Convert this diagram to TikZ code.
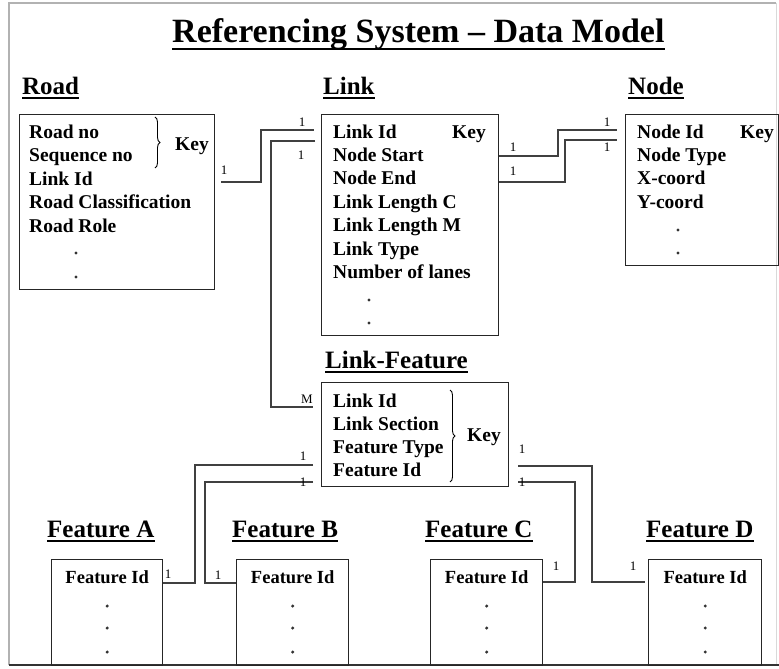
\documentclass[tikz,border=0pt]{standalone}
\usepackage{fontspec}
\setmainfont{Liberation Serif}
\usetikzlibrary{decorations.pathreplacing}

% underlined heading: name, x, baseline y, text
\newcommand\ulheading[4]{%
  \node[heading] (#1) at (#2,#3) {#4};
  \draw[uline] ([yshift=-4pt]#1.base west) -- ([yshift=-4pt]#1.base east);
}

\begin{document}
\begin{tikzpicture}[x=1pt,y=-1pt,
  entity/.style={draw=black!85, line width=1.4pt, inner sep=0, anchor=north west},
  field/.style={inner sep=0, anchor=base west, font=\fontsize{19.5}{23}\selectfont\bfseries},
  fieldc/.style={field, anchor=base},
  heading/.style={inner sep=0, anchor=base west, font=\fontsize{25}{30}\selectfont\bfseries},
  titletext/.style={inner sep=0, anchor=base west, font=\fontsize{34}{40}\selectfont\bfseries},
  card/.style={inner sep=0, font=\fontsize{13}{13}\selectfont},
  conn/.style={draw=black!75, line width=1.3pt},
  uline/.style={line width=1.6pt},
  keybrace/.style={decorate, decoration={brace, amplitude=5pt}, line width=0.9pt},
  dot/.style={fill=black!80}
]
\useasboundingbox (0,0) rectangle (779,669);

% outer frame
\draw[gray!60, line width=1.5pt] (9,665) -- (9,3) -- (776,3);
\draw[gray!30, line width=1pt] (776,3) -- (776,665);
\draw[black!80, line width=1.8pt] (9,665) -- (779,665);

% title
\node[titletext] (title) at (172,43) {Referencing System – Data Model};
\draw[line width=2.2pt] ([yshift=-6pt]title.base west) -- ([yshift=-6pt]title.base east);

% ---------- Road ----------
\ulheading{roadh}{22}{94}{Road}
\node[entity, minimum width=195pt, minimum height=175pt] (road) at (19,114) {};
\foreach \t [count=\i] in {Road no, Sequence no, Link Id, Road Classification, Road Role}
  \node[field] (road-f\i) at (29,{138+23.5*(\i-1)}) {\t};
\draw[keybrace] (155,117) -- (155,168);
\node[field] (road-key) at (175,150) {Key};
\fill[dot] (76,253) circle (1.7pt) (76,277) circle (1.7pt);

% ---------- Link ----------
\ulheading{linkh}{323}{94}{Link}
\node[entity, minimum width=177pt, minimum height=221pt] (link) at (321,114) {};
\foreach \t [count=\i] in {Link Id, Node Start, Node End, Link Length C, Link Length M, Link Type, Number of lanes}
  \node[field] (link-f\i) at (333,{138+23.4*(\i-1)}) {\t};
\node[field] (link-key) at (452,138) {Key};
\fill[dot] (369,300) circle (1.7pt) (369,323) circle (1.7pt);

% ---------- Node ----------
\ulheading{nodeh}{628}{94}{Node}
\node[entity, minimum width=153pt, minimum height=151pt] (node) at (625,114) {};
\foreach \t [count=\i] in {Node Id, Node Type, X-coord, Y-coord}
  \node[field] (node-f\i) at (637,{138+23.4*(\i-1)}) {\t};
\node[field] (node-key) at (740,138) {Key};
\fill[dot] (678,230) circle (1.7pt) (678,253) circle (1.7pt);

% ---------- Link-Feature ----------
\ulheading{lfh}{325}{368}{Link-Feature}
\node[entity, minimum width=187pt, minimum height=104pt] (lf) at (321,382) {};
\foreach \t [count=\i] in {Link Id, Link Section, Feature Type, Feature Id}
  \node[field] (lf-f\i) at (333,{407+23.3*(\i-1)}) {\t};
\draw[keybrace] (450,390) -- (450,482);
\node[field] (lf-key) at (467,441) {Key};

% ---------- Features ----------
\ulheading{fah}{47}{537}{Feature A}
\ulheading{fbh}{232}{537}{Feature B}
\ulheading{fch}{425}{537}{Feature C}
\ulheading{fdh}{646}{537}{Feature D}
\node[entity, minimum width=111pt, minimum height=106pt] (fa) at (51,559) {};
\node[entity, minimum width=112pt, minimum height=106pt] (fb) at (236,559) {};
\node[entity, minimum width=112pt, minimum height=106pt] (fc) at (430,559) {};
\node[entity, minimum width=113pt, minimum height=106pt] (fd) at (648,559) {};
\foreach \f in {fa,fb,fc,fd}{
  \node[fieldc, font=\fontsize{18.5}{22}\selectfont\bfseries] (\f-id) at (\f.north |- 0,583) {Feature Id};
  \foreach \yy in {606,628,652}
    \fill[dot] (\f.north |- 0,\yy) circle (1.7pt);
}

% ---------- connectors ----------
\draw[conn, shorten <=6pt, shorten >=7pt] (road.east |- 0,182) -- (261,182) |- (link.west |- 0,130);
\draw[conn, shorten <=6pt, shorten >=8pt] (link.west |- 0,141) -- (271,141) |- (lf.west |- 0,407);
\draw[conn, shorten >=8pt] (link.east |- 0,156) -- (558,156) |- (node.west |- 0,130);
\draw[conn, shorten >=8pt] (link.east |- 0,182) -- (565,182) |- (node.west |- 0,140);
\draw[conn, shorten <=8pt] (lf.west |- 0,465) -- (195,465) |- (fa.east |- 0,583);
\draw[conn, shorten <=8pt] (lf.west |- 0,482) -- (205,482) |- (fb.west |- 0,583);
\draw[conn, shorten <=9pt, shorten >=3pt] (lf.east |- 0,466) -- (592,466) |- (fd.west |- 0,582);
\draw[conn, shorten <=9pt] (lf.east |- 0,482) -- (575,482) |- (fc.east |- 0,582);

% cardinality labels
\node[card] (c-rl1) at (224,170) {1};
\node[card] (c-rl2) at (302,122) {1};
\node[card] (c-lf1) at (301,155) {1};
\node[card] (c-lf2) at (307,399) {M};
\node[card] (c-ln1) at (513,147) {1};
\node[card] (c-ln2) at (513,171) {1};
\node[card] (c-ln3) at (607,122) {1};
\node[card] (c-ln4) at (607,147) {1};
\node[card] (c-fa1) at (303,456) {1};
\node[card] (c-fb1) at (303,482) {1};
\node[card] (c-fd1) at (522,449) {1};
\node[card] (c-fc1) at (522,482) {1};
\node[card] (c-fa2) at (168,574) {1};
\node[card] (c-fb2) at (218,575) {1};
\node[card] (c-fc2) at (556,566) {1};
\node[card] (c-fd2) at (633,566) {1};
\end{tikzpicture}
\end{document}
